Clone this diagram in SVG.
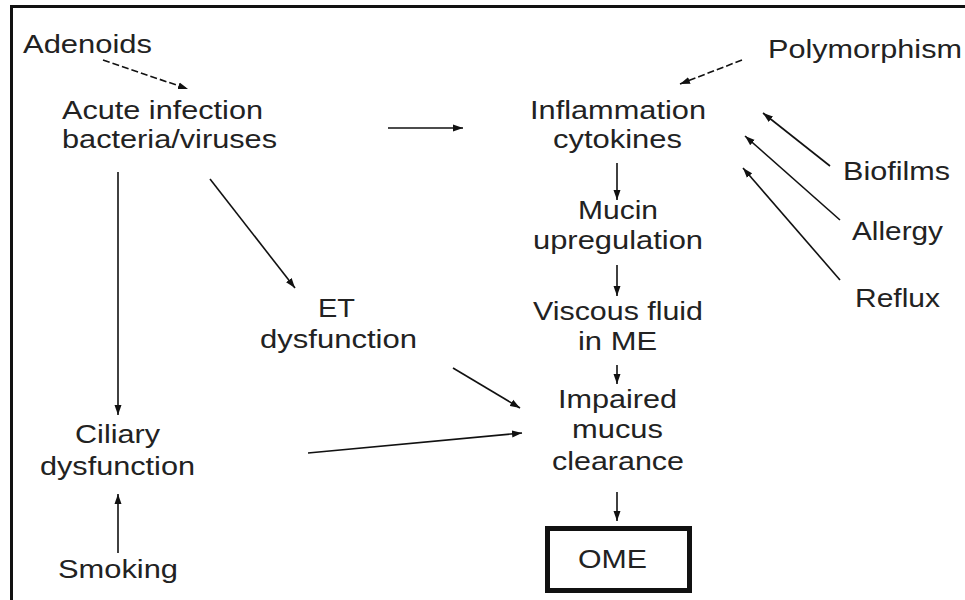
<svg xmlns="http://www.w3.org/2000/svg" width="965" height="600" viewBox="0 0 965 600">
<style>
text{font-family:"Liberation Sans",Arial,sans-serif;font-size:25px;fill:#222;lengthAdjust:spacingAndGlyphs}
.c line{stroke:#111;stroke-width:1.6;fill:none;marker-end:url(#ah)}
.c .d{stroke-dasharray:7 3}
</style>
<defs>
<marker id="ah" markerUnits="userSpaceOnUse" markerWidth="11" markerHeight="8" refX="10" refY="4" orient="auto">
<path d="M0,0.5 L10,4 L0,7.5 z" fill="#111"/>
</marker>
</defs>
<rect x="0" y="0" width="965" height="600" fill="#fff"/>
<rect x="11.5" y="6.5" width="1000" height="700" fill="none" stroke="#111" stroke-width="3"/>
<g id="adenoids"><text x="23" y="53" textLength="129" lengthAdjust="spacingAndGlyphs">Adenoids</text></g>
<g id="acute"><text x="62" y="119" textLength="201" lengthAdjust="spacingAndGlyphs">Acute infection</text><text x="62" y="148" textLength="215" lengthAdjust="spacingAndGlyphs">bacteria/viruses</text></g>
<g id="polymorphism"><text x="768" y="58" textLength="194" lengthAdjust="spacingAndGlyphs">Polymorphism</text></g>
<g id="inflammation"><text x="530" y="119" textLength="176" lengthAdjust="spacingAndGlyphs">Inflammation</text><text x="553" y="148" textLength="129" lengthAdjust="spacingAndGlyphs">cytokines</text></g>
<g id="mucin"><text x="578" y="219" textLength="80" lengthAdjust="spacingAndGlyphs">Mucin</text><text x="533" y="249" textLength="170" lengthAdjust="spacingAndGlyphs">upregulation</text></g>
<g id="biofilms"><text x="843" y="180" textLength="107" lengthAdjust="spacingAndGlyphs">Biofilms</text></g>
<g id="allergy"><text x="852" y="240" textLength="91" lengthAdjust="spacingAndGlyphs">Allergy</text></g>
<g id="reflux"><text x="855" y="307" textLength="85" lengthAdjust="spacingAndGlyphs">Reflux</text></g>
<g id="viscous"><text x="533" y="320" textLength="170" lengthAdjust="spacingAndGlyphs">Viscous fluid</text><text x="578" y="350" textLength="79" lengthAdjust="spacingAndGlyphs">in ME</text></g>
<g id="et"><text x="318" y="317" textLength="37" lengthAdjust="spacingAndGlyphs">ET</text><text x="260" y="348" textLength="157" lengthAdjust="spacingAndGlyphs">dysfunction</text></g>
<g id="impaired"><text x="558" y="408" textLength="119" lengthAdjust="spacingAndGlyphs">Impaired</text><text x="572" y="438" textLength="91" lengthAdjust="spacingAndGlyphs">mucus</text><text x="552" y="470" textLength="132" lengthAdjust="spacingAndGlyphs">clearance</text></g>
<g id="ciliary"><text x="75" y="443" textLength="85" lengthAdjust="spacingAndGlyphs">Ciliary</text><text x="40" y="475" textLength="155" lengthAdjust="spacingAndGlyphs">dysfunction</text></g>
<g id="smoking"><text x="58" y="578" textLength="120" lengthAdjust="spacingAndGlyphs">Smoking</text></g>
<g id="ome"><rect x="547.5" y="528.5" width="142" height="62" fill="#fff" stroke="#111" stroke-width="5"/><text x="578" y="568" textLength="69" lengthAdjust="spacingAndGlyphs">OME</text></g>
<g class="c" id="connectors">
<line class="d" x1="103" y1="60" x2="188" y2="89"/>
<line x1="388" y1="128" x2="463" y2="128"/>
<line x1="118" y1="172" x2="118" y2="415"/>
<line x1="210" y1="179" x2="295" y2="288"/>
<line class="d" x1="742" y1="60" x2="680" y2="84"/>
<line x1="830" y1="166" x2="763" y2="113"/>
<line x1="840" y1="220" x2="745" y2="136"/>
<line x1="840" y1="280" x2="743" y2="168"/>
<line x1="617" y1="163" x2="617" y2="200"/>
<line x1="617" y1="265" x2="617" y2="296"/>
<line x1="617" y1="365" x2="617" y2="384"/>
<line x1="453" y1="368" x2="520" y2="408"/>
<line x1="308" y1="453" x2="522" y2="433"/>
<line x1="617" y1="492" x2="617" y2="521"/>
<line x1="118" y1="553" x2="118" y2="494"/>
</g>
</svg>
